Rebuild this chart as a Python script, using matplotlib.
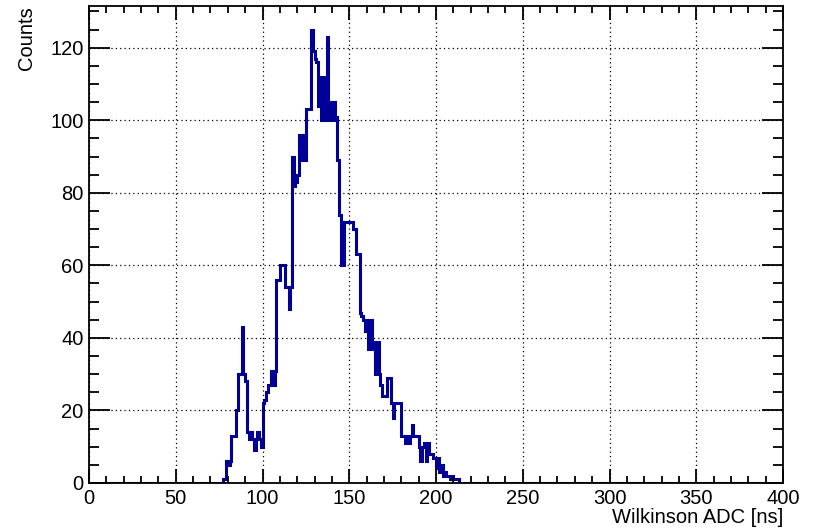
import numpy as np
import matplotlib
matplotlib.use("Agg")
import matplotlib.pyplot as plt
from matplotlib.ticker import MultipleLocator

# --- data: 1 ns bins, first filled bin starts at 77 ns ---
x_min, x_max = 0, 400
bin_width = 1
first_bin = 77
counts_filled = [
    1, 1, 6, 5, 6, 13, 13, 13, 20, 30,      # 77-86
    30, 43, 30, 28, 14, 12, 14, 12, 9, 12,  # 87-96
    14, 12, 10, 22, 23, 25, 27, 27, 31, 27, # 97-106
    31, 56, 56, 60, 60, 60, 54, 54, 48, 54, # 107-116
    90, 82, 83, 85, 96, 89, 96, 89, 103, 103,   # 117-126
    103, 125, 119, 117, 116, 104, 112, 100, 112, 100,  # 127-136
    123, 100, 105, 100, 105, 101, 89, 74, 60, 60,  # 137-146
    72, 72, 72, 72, 72, 70, 70, 63, 63, 47,  # 147-156
    46, 45, 42, 45, 37, 45, 37, 39, 30, 39,  # 157-166
    30, 27, 24, 24, 24, 29, 29, 22, 18, 22,  # 167-176
    22, 22, 22, 13, 13, 11, 13, 11, 13, 16,  # 177-186
    13, 13, 13, 10, 6, 10, 11, 6, 11, 8,     # 187-196
    8, 7, 7, 4, 7, 3, 5, 2, 3, 2,            # 197-206
    2, 1, 2, 1, 1, 1,                        # 207-212
]
y_max = 131.5

edges = np.arange(x_min, x_max + bin_width, bin_width)
counts = np.zeros(len(edges) - 1)
i0 = (first_bin - x_min) // bin_width
counts[i0:i0 + len(counts_filled)] = counts_filled

plt.rcParams['font.family'] = ['Liberation Sans', 'DejaVu Sans']

fig = plt.figure(figsize=(8.17, 5.30), dpi=100)
ax = fig.add_axes([89 / 817, 47 / 530, 694 / 817, 477 / 530])

ax.stairs(counts, edges, color="#000099", linewidth=2.2)

ax.set_xlim(x_min, x_max)
ax.set_ylim(0, y_max)

# ROOT-like axes: ticks inside on all sides, dotted grid
ax.xaxis.set_major_locator(MultipleLocator(50))
ax.xaxis.set_minor_locator(MultipleLocator(10))
ax.yaxis.set_major_locator(MultipleLocator(20))
ax.yaxis.set_minor_locator(MultipleLocator(5))
ax.tick_params(axis="both", which="both", direction="in",
               top=True, right=True, width=1.3, labelsize=14.5, colors="black")
ax.tick_params(axis="x", which="major", length=10, pad=4)
ax.tick_params(axis="x", which="minor", length=5)
ax.tick_params(axis="y", which="major", length=15, pad=4)
ax.tick_params(axis="y", which="minor", length=7.5)
ax.grid(True, which="major", linestyle=(0, (1, 2.5)), color="black", linewidth=0.9)
for s in ax.spines.values():
    s.set_linewidth(1.3)

ax.set_xlabel("Wilkinson ADC [ns]", fontsize=14.5, loc="right", labelpad=0)
ax.set_ylabel("Counts", fontsize=14.5, loc="top", labelpad=10)

fig.savefig("out.png", dpi=100)
